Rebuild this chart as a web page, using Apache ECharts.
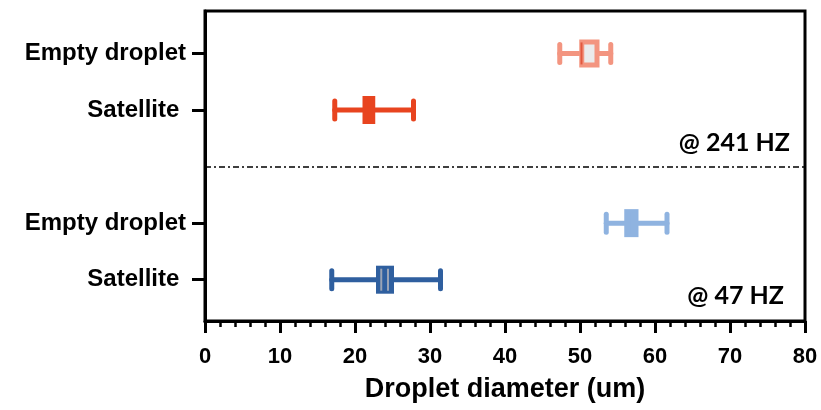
<!DOCTYPE html>
<html>
<head>
<meta charset="utf-8">
<script src="https://cdn.jsdelivr.net/npm/echarts@6/dist/echarts.min.js"></script>
<style>
  html, body { margin: 0; padding: 0; background: #fff; }
  #chart { width: 821px; height: 410px; }
</style>
</head>
<body>
<div id="chart"></div>
<script>
// rows from bottom to top, index + 1 is the row value on the y axis
const rowNames = ['Satellite ', 'Empty droplet', '', 'Satellite ', 'Empty droplet']
const rowValues = [1, 2, 4, 5]
const groupLine = 3

// box stats (um): min, q1, median, q3, max
const boxMin = [16.9, 53.5, 17.3, 47.3]
const boxQ1 = [22.8, 55.9, 21.0, 49.9]
const boxMedian = [23.5, 56.8, 21.8, 50.2]
const boxMean = [24.4, 56.9, 21.9, 50.4]
const boxQ3 = [25.2, 57.8, 22.7, 52.6]
const boxMax = [31.4, 61.6, 27.8, 54.1]

const freqLabels = ['@ 47 HZ', '@ 241 HZ']

const colors = ['#2f5f9f', '#8fb3e0', '#e8441f', '#f39580']
const fills = ['#2f5f9f', '#8fb3e0', '#e8441f', '#ebebeb']
const midColors = ['#9aa3b5', '#8fb3e0', '#e8441f', '#e2583e']

const chart = echarts.init(document.getElementById('chart'))

const boxData = rowValues.map((y, i) => [y, boxMin[i], boxQ1[i], boxMedian[i], boxQ3[i], boxMax[i], boxMean[i]])

function renderBox(params, api) {
  const i = params.dataIndex
  const y = api.value(0)
  const pMin = api.coord([api.value(1), y])
  const pQ1 = api.coord([api.value(2), y])
  const pMed = api.coord([api.value(3), y])
  const pQ3 = api.coord([api.value(4), y])
  const pMax = api.coord([api.value(5), y])
  const pMean = api.coord([api.value(6), y])
  const cy = pMin[1]
  const boxH = 28
  const capH = 18
  const c = colors[i]
  const line = { stroke: c, lineWidth: 5, lineCap: 'round' }
  const bw = i === 3 ? 5 : 0
  return {
    type: 'group',
    children: [
      { type: 'line', shape: { x1: pMin[0], y1: cy, x2: pMax[0], y2: cy }, style: line },
      { type: 'line', shape: { x1: pMin[0], y1: cy - capH / 2, x2: pMin[0], y2: cy + capH / 2 }, style: line },
      { type: 'line', shape: { x1: pMax[0], y1: cy - capH / 2, x2: pMax[0], y2: cy + capH / 2 }, style: line },
      {
        type: 'rect',
        shape: { x: pQ1[0] + bw / 2, y: cy - boxH / 2 + bw / 2, width: pQ3[0] - pQ1[0] - bw, height: boxH - bw },
        style: { fill: fills[i], stroke: bw ? c : null, lineWidth: bw }
      },
      { type: 'line', shape: { x1: pMed[0], y1: cy - boxH / 2 + 3, x2: pMed[0], y2: cy + boxH / 2 - 3 }, style: { stroke: midColors[i], lineWidth: 2 } },
      { type: 'line', shape: { x1: pMean[0], y1: cy - boxH / 2 + 3, x2: pMean[0], y2: cy + boxH / 2 - 3 }, style: { stroke: midColors[i], lineWidth: i === 3 ? 0 : 2 } }
    ]
  }
}

chart.setOption({
  animation: false,
  grid: {
    left: 205,
    right: 16,
    top: 11,
    bottom: 89,
    show: true,
    borderColor: '#000',
    borderWidth: 3
  },
  xAxis: {
    type: 'value',
    min: 0,
    max: 80,
    interval: 10,
    name: 'Droplet diameter (um)',
    nameLocation: 'middle',
    nameGap: 55,
    nameTextStyle: { fontFamily: 'Liberation Sans', fontWeight: 'bold', fontSize: 27, color: '#000' },
    axisLine: { show: true, lineStyle: { color: '#000', width: 3 } },
    axisTick: { show: true, length: 12, lineStyle: { color: '#000', width: 3 } },
    minorTick: { show: true, splitNumber: 5, length: 6, lineStyle: { color: '#000', width: 2.5 } },
    axisLabel: { margin: 25, fontFamily: 'Liberation Sans', fontWeight: 'bold', fontSize: 22, color: '#000' },
    splitLine: { show: false }
  },
  yAxis: {
    type: 'value',
    min: 0.27,
    max: 5.75,
    axisLine: { show: true, lineStyle: { color: '#000', width: 3 } },
    axisTick: { show: true, length: 13, customValues: rowValues, lineStyle: { color: '#000', width: 3 } },
    axisLabel: {
      customValues: rowValues,
      margin: 19,
      fontFamily: 'Liberation Sans',
      fontWeight: 'bold',
      fontSize: 24,
      color: '#000',
      formatter: (v) => rowNames[Math.round(v) - 1]
    },
    splitLine: { show: false }
  },
  series: [
    {
      type: 'custom',
      renderItem: renderBox,
      encode: { x: [1, 2, 3, 4, 5, 6], y: 0 },
      data: boxData,
      markLine: {
        silent: true,
        symbol: 'none',
        label: { show: false },
        lineStyle: { color: '#000', width: 1.5, type: [6, 3, 2, 3] },
        data: [{ yAxis: groupLine }]
      }
    },
    {
      type: 'scatter',
      symbolSize: 0,
      silent: true,
      itemStyle: { opacity: 1 },
      data: [[77.2, 0.71], [78, 3.42]].map((p, i) => ({ value: p, label: { formatter: freqLabels[i] } })),
      label: {
        show: true,
        position: 'left',
        distance: 0,
        fontFamily: 'Lato',
        fontWeight: 'bold',
        fontSize: 25,
        color: '#000'
      }
    }
  ]
})
</script>
</body>
</html>
